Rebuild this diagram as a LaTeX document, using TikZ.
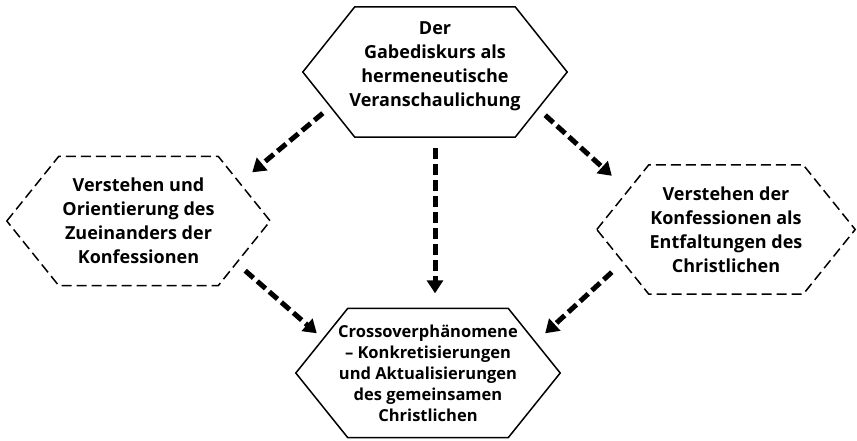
\documentclass[tikz,border=0pt]{standalone}
\usepackage{fontspec}
\setmainfont{Open Sans}
\usetikzlibrary{arrows.meta}

% hexagon round a node (inset of the slanted sides)
\newcommand{\hexrand}[2][]{%
  \draw[#1] (#2.west) -- ([xshift=52]#2.north west) -- ([xshift=-52]#2.north east)
    -- (#2.east) -- ([xshift=-52]#2.south east) -- ([xshift=52]#2.south west) -- cycle;}

\begin{document}
\begin{tikzpicture}[x=1pt,y=-1pt,
  feld/.style={rectangle,inner sep=0pt,align=center,
    font=\bfseries\fontsize{18}{24}\selectfont},
  rand/.style={line width=1.5pt,line join=miter},
  strich/.style={rand,dash pattern=on 10pt off 5pt},
  flow/.style={line width=5pt,dash pattern=on 11pt off 5pt,
    -{Triangle[length=13pt,width=16pt]}}]
\useasboundingbox (0,0) rectangle (857,440);

\node[feld,minimum width=264,minimum height=130] (gabe) at (435,72) {};
\node[feld] (gabetext) at (435,66)
  {Der\\Gabediskurs als\\hermeneutische\\Veranschaulichung};
\node[feld,minimum width=263,minimum height=129] (links) at (138.5,221)
  {Verstehen und\\Orientierung des\\Zueinanders der\\Konfessionen};
\node[feld,minimum width=258,minimum height=129] (rechts) at (726,229.5)
  {Verstehen der\\Konfessionen als\\Entfaltungen des\\Christlichen};
\node[feld,minimum width=264,minimum height=129,
  font=\bfseries\fontsize{16.5}{21}\selectfont] (crosso) at (428,373)
  {Crossoverph\"anomene\\-- Konkretisierungen\\und Aktualisierungen\\des gemeinsamen\\Christlichen};

\hexrand[rand]{gabe}
\hexrand[strich]{links}
\hexrand[strich]{rechts}
\hexrand[rand]{crosso}

\draw[flow] ([shift={(20,-24)}]gabe.south west) -- ([shift={(-18,16)}]links.north east);
\draw[flow] ([shift={(0,11)}]gabe.south) -- ([shift={(7,-15)}]crosso.north);
\draw[flow] ([shift={(-22,-22)}]gabe.south east) -- ([shift={(15,11)}]rechts.north west);
\draw[flow] ([shift={(-25,-15)}]links.south east) -- ([shift={(21,25)}]crosso.north west);
\draw[flow] ([shift={(15,-22)}]rechts.south west) -- ([shift={(-15,25)}]crosso.north east);

\end{tikzpicture}
\end{document}
